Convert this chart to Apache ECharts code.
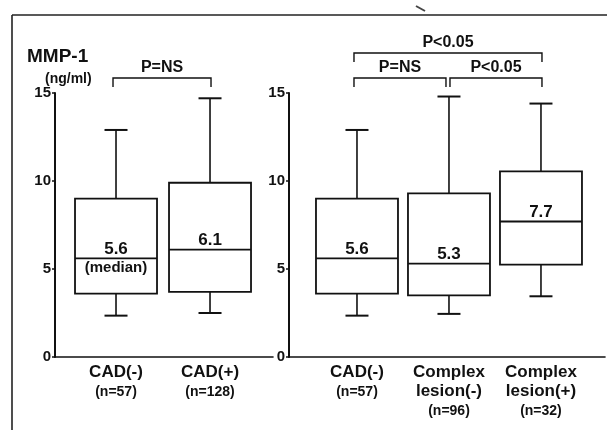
<!DOCTYPE html>
<html><head><meta charset="utf-8">
<script src="https://cdn.jsdelivr.net/npm/echarts@6/dist/echarts.min.js"></script>
<style>html,body{margin:0;padding:0;background:#fff}#c{width:607px;height:430px}</style>
</head><body><div id="c"></div>
<script>
// ---------- data ----------
const yTitle = 'MMP-1';
const yUnit = '(ng/ml)';
const yMin = 0, yMax = 15, yStep = 5;

const leftNames = ['CAD(-)', 'CAD(+)'];
const leftN = ['(n=57)', '(n=128)'];
const leftLow = [2.35, 2.5];
const leftQ1 = [3.6, 3.7];
const leftMedian = [5.6, 6.1];
const leftQ3 = [9.0, 9.9];
const leftHigh = [12.9, 14.7];
const leftBracketFrom = [0];
const leftBracketTo = [1];
const leftBracketText = ['P=NS'];

const rightNames = ['CAD(-)', 'Complex\nlesion(-)', 'Complex\nlesion(+)'];
const rightN = ['(n=57)', '(n=96)', '(n=32)'];
const rightLow = [2.35, 2.45, 3.45];
const rightQ1 = [3.6, 3.5, 5.25];
const rightMedian = [5.6, 5.3, 7.7];
const rightQ3 = [9.0, 9.3, 10.55];
const rightHigh = [12.9, 14.8, 14.4];
const rightBracketFrom = [0, 1, 0];
const rightBracketTo = [1, 2, 2];
const rightBracketText = ['P=NS', 'P<0.05', 'P<0.05'];

const medianNote = '(median)';

// ---------- build ----------
const FONT = '"Liberation Sans", Arial, sans-serif';
function boxRows(lo, q1, md, q3, hi) {
  return lo.map((v, i) => [i, lo[i], q1[i], md[i], q3[i], hi[i]]);
}
function makeBoxRender(withNote) {
  return function (params, api) {
    const i = api.value(0);
    const x = api.coord([i, 0])[0];
    const yLo = api.coord([i, api.value(1)])[1];
    const yQ1 = api.coord([i, api.value(2)])[1];
    const yMd = api.coord([i, api.value(3)])[1];
    const yQ3 = api.coord([i, api.value(4)])[1];
    const yHi = api.coord([i, api.value(5)])[1];
    const hw = 41, cw = 11.5;
    const ls = { stroke: '#111', lineWidth: 1.6, fill: null };
    const children = [
      { type: 'line', shape: { x1: x, y1: yQ3, x2: x, y2: yHi }, style: ls },
      { type: 'line', shape: { x1: x - cw, y1: yHi, x2: x + cw, y2: yHi }, style: { stroke: '#111', lineWidth: 2 } },
      { type: 'line', shape: { x1: x, y1: yQ1, x2: x, y2: yLo }, style: ls },
      { type: 'line', shape: { x1: x - cw, y1: yLo, x2: x + cw, y2: yLo }, style: { stroke: '#111', lineWidth: 2 } },
      { type: 'rect', shape: { x: x - hw, y: yQ3, width: hw * 2, height: yQ1 - yQ3 }, style: { fill: '#fff', stroke: '#111', lineWidth: 1.8 } },
      { type: 'line', shape: { x1: x - hw, y1: yMd, x2: x + hw, y2: yMd }, style: { stroke: '#111', lineWidth: 1.8 } },
      { type: 'text', x: x, y: yMd - 1, style: { text: api.value(3).toFixed(1), align: 'center', verticalAlign: 'bottom', font: 'bold 17px ' + FONT, fill: '#111' } }
    ];
    if (withNote && params.dataIndex === 0) {
      children.push({ type: 'text', x: x, y: yMd + 2, style: { text: medianNote, align: 'center', verticalAlign: 'top', font: 'bold 15px ' + FONT, fill: '#111' } });
    }
    return { type: 'group', children: children };
  };
}
function makeCatRender(names, ns) {
  return function (params, api) {
    const i = api.value(0);
    const p = api.coord([i, 0]);
    const lines = names[params.dataIndex].split('\n').map(s => '{a|' + s + '}');
    lines.push('{b|' + ns[params.dataIndex] + '}');
    return {
      type: 'text', x: p[0], y: p[1] + 6,
      style: {
        text: lines.join('\n'), align: 'center', verticalAlign: 'top', fill: '#111',
        rich: {
          a: { font: 'bold 17px ' + FONT, lineHeight: 19, fill: '#111', align: 'center' },
          b: { font: 'bold 14px ' + FONT, lineHeight: 20, fill: '#111', align: 'center' }
        }
      }
    };
  };
}
function makeBracketRender(froms, tos, texts) {
  return function (params, api) {
    const k = params.dataIndex;
    const f = froms[k], t = tos[k];
    const tier = (t - f) > 1 ? 1 : 0;
    const top = api.coord([0, yMax])[1];
    let x1 = api.coord([f, 0])[0] - 3;
    let x2 = api.coord([t, 0])[0] + 1;
    froms.forEach((ff, j) => { if (j !== k && ff === t && (tos[j] - ff > 1 ? 1 : 0) === tier) x2 = api.coord([t, 0])[0] - 3; });
    tos.forEach((tt, j) => { if (j !== k && tt === f && (tt - froms[j] > 1 ? 1 : 0) === tier) x1 = api.coord([f, 0])[0] + 1; });
    const by = tier ? top - 40 : top - 15;
    const drop = 9;
    const st = { stroke: '#111', lineWidth: 1.4, fill: null };
    return {
      type: 'group', children: [
        { type: 'polyline', shape: { points: [[x1, by + drop], [x1, by], [x2, by], [x2, by + drop]] }, style: st },
        { type: 'text', x: (x1 + x2) / 2, y: by - 2, style: { text: texts[k], align: 'center', verticalAlign: 'bottom', font: 'bold 16px ' + FONT, fill: '#111' } }
      ]
    };
  };
}

const yAxisCommon = {
  type: 'value', min: yMin, max: yMax, interval: yStep,
  axisLine: { show: true, onZero: false, lineStyle: { color: '#111', width: 2 } },
  axisTick: { show: true, length: 3, lineStyle: { color: '#111', width: 1.5 } },
  axisLabel: { color: '#111', fontWeight: 'bold', fontSize: 15, fontFamily: 'Liberation Sans', margin: 4 },
  splitLine: { show: false }
};
const xAxisCommon = {
  type: 'value',
  axisLine: { show: true, onZero: false, lineStyle: { color: '#111', width: 1.6 } },
  axisTick: { show: false }, axisLabel: { show: false }, splitLine: { show: false }
};

const chart = echarts.init(document.getElementById('c'), null, { renderer: 'canvas' });
chart.setOption({
  animation: false,
  backgroundColor: '#fff',
  grid: [
    { left: 55, top: 93, width: 218, height: 264, outerBoundsMode: 'none' },
    { left: 289, top: 93, width: 316, height: 264, outerBoundsMode: 'none' }
  ],
  xAxis: [
    Object.assign({}, xAxisCommon, { gridIndex: 0, min: -0.649, max: 1.67 }),
    Object.assign({}, xAxisCommon, { gridIndex: 1, min: -0.739, max: 2.696 })
  ],
  yAxis: [
    Object.assign({}, yAxisCommon, { gridIndex: 0 }),
    Object.assign({}, yAxisCommon, { gridIndex: 1 })
  ],
  series: [
    { type: 'custom', xAxisIndex: 0, yAxisIndex: 0, renderItem: makeBoxRender(true), data: boxRows(leftLow, leftQ1, leftMedian, leftQ3, leftHigh), z: 3 },
    { type: 'custom', xAxisIndex: 1, yAxisIndex: 1, renderItem: makeBoxRender(false), data: boxRows(rightLow, rightQ1, rightMedian, rightQ3, rightHigh), z: 3 },
    { type: 'custom', xAxisIndex: 0, yAxisIndex: 0, renderItem: makeCatRender(leftNames, leftN), data: leftNames.map((n, i) => [i, 0]) },
    { type: 'custom', xAxisIndex: 1, yAxisIndex: 1, renderItem: makeCatRender(rightNames, rightN), data: rightNames.map((n, i) => [i, 0]) },
    { type: 'custom', xAxisIndex: 0, yAxisIndex: 0, renderItem: makeBracketRender(leftBracketFrom, leftBracketTo, leftBracketText), data: leftBracketFrom.map((f, i) => [f, leftBracketTo[i]]) },
    { type: 'custom', xAxisIndex: 1, yAxisIndex: 1, renderItem: makeBracketRender(rightBracketFrom, rightBracketTo, rightBracketText), data: rightBracketFrom.map((f, i) => [f, rightBracketTo[i]]) }
  ],
  graphic: [
    { type: 'line', shape: { x1: 12, y1: 15, x2: 12, y2: 430 }, style: { stroke: '#222', lineWidth: 1.6 } },
    { type: 'line', shape: { x1: 12, y1: 15, x2: 607, y2: 15 }, style: { stroke: '#222', lineWidth: 1.6 } },
    { type: 'line', shape: { x1: 416, y1: 6, x2: 425, y2: 11 }, style: { stroke: '#444', lineWidth: 2 } },
    { type: 'text', left: 27, top: 47, style: { text: yTitle, font: 'bold 19px ' + FONT, fill: '#111' } },
    { type: 'text', left: 45, top: 72, style: { text: yUnit, font: 'bold 14px ' + FONT, fill: '#111' } }
  ]
});
</script></body></html>
